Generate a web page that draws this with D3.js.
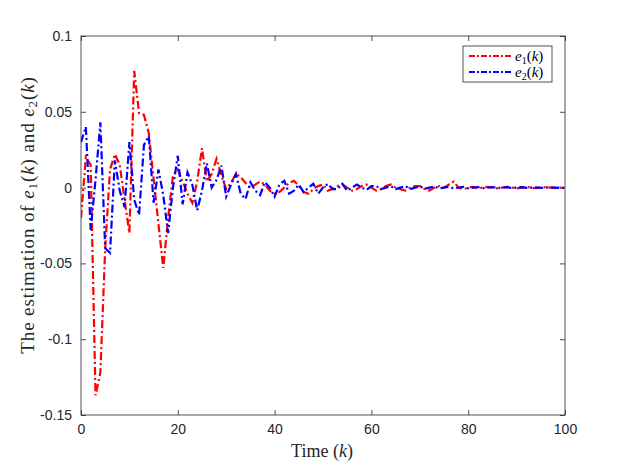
<!DOCTYPE html>
<html>
<head>
<meta charset="utf-8">
<script src="https://cdn.jsdelivr.net/npm/d3@7"></script>
<style>
  html, body { margin: 0; padding: 0; background: #fff; }
  svg { display: block; }
</style>
</head>
<body>
<svg id="chart" width="623" height="467"></svg>
<script>
const kValues = d3.range(0, 101);
const e1 = [
  -0.020, 0.020, 0.015, -0.137, -0.122, -0.040, 0.012, 0.022, 0.015, -0.008,
  -0.030, 0.077, 0.049, 0.048, 0.036, 0.006, -0.024, -0.053, -0.020, 0.008,
  0.012, 0.004, -0.004, -0.010, 0.004, 0.026, 0.004, 0.009, 0.019, 0.008,
  -0.001, 0.003, 0.009, 0.007, 0.003, 0.000, 0.002, 0.004, 0.002, -0.002,
  -0.004, -0.003, 0.000, 0.003, 0.0045, 0.001, -0.003, -0.004, -0.001, 0.001,
  0.002, -0.002, -0.001, 0.001, 0.002, 0.000, -0.002, -0.001, 0.001, 0.002,
  0.000, -0.002, -0.001, 0.001, 0.002, 0.000, -0.001, -0.002, 0.000, 0.001,
  0.001, -0.001, -0.002, 0.000, 0.001, 0.000, 0.002, 0.004, 0.000, -0.001,
  0.000, 0.0005, -0.0005, 0.000, 0.0005, 0.000, -0.0005, 0.000, 0.0005, 0.000,
  -0.0005, 0.000, 0.0004, 0.000, -0.0004, 0.000, 0.0003, 0.000, -0.0003, 0.000,
  0.000
];
const e2 = [
  0.030, 0.040, -0.028, 0.005, 0.043, -0.040, -0.043, 0.018, -0.002, -0.013,
  0.030, -0.008, -0.018, 0.028, 0.034, -0.010, 0.012, -0.005, -0.030, 0.000,
  0.021, -0.011, 0.010, 0.002, -0.015, -0.002, 0.016, 0.000, 0.005, 0.0145,
  -0.006, 0.002, 0.009, -0.004, -0.0075, 0.0035, -0.002, -0.005, 0.0035, 0.000,
  -0.006, 0.002, 0.0045, -0.004, -0.002, 0.002, -0.003, 0.000, 0.0025, -0.004,
  0.000, 0.0025, -0.001, -0.001, 0.0025, -0.002, 0.000, 0.002, 0.000, -0.0015,
  0.001, 0.001, -0.001, 0.000, 0.001, -0.001, 0.000, 0.001, -0.001, 0.000,
  0.0008, -0.0008, 0.000, 0.0008, -0.0005, 0.000, 0.0005, -0.0005, 0.000, 0.0005,
  -0.0005, 0.000, 0.0004, -0.0004, 0.000, 0.0004, -0.0003, 0.000, 0.0003, -0.0003,
  0.000, 0.0003, -0.0002, 0.000, 0.0002, -0.0002, 0.000, 0.0002, 0.000, -0.0002,
  0.000
];
const xTicks = [0, 20, 40, 60, 80, 100];
const yTicks = [0.1, 0.05, 0, -0.05, -0.1, -0.15];
const yTickLabels = ["0.1", "0.05", "0", "-0.05", "-0.1", "-0.15"];

const svg = d3.select("#chart");
const mLeft = 81, mRight = 565, mTop = 36, mBottom = 415;
const x = d3.scaleLinear().domain([0, 100]).range([mLeft, mRight]);
const y = d3.scaleLinear().domain([-0.15, 0.1]).range([mBottom, mTop]);
const axisColor = "#262626";
const tickFont = "Liberation Sans, Arial, Helvetica, sans-serif";
const serif = "Liberation Serif, 'Times New Roman', serif";

const xAxis = d3.axisBottom(x).tickValues(xTicks).tickSize(-5).tickPadding(9).tickFormat(d3.format("d"));
const gx = svg.append("g").attr("transform", `translate(0,${mBottom})`).call(xAxis);
const xAxisTop = d3.axisTop(x).tickValues(xTicks).tickSize(-5).tickFormat("");
const gxt = svg.append("g").attr("transform", `translate(0,${mTop})`).call(xAxisTop);
const yAxis = d3.axisLeft(y).tickValues(yTicks).tickSize(-5).tickPadding(9)
  .tickFormat((d, i) => yTickLabels[i]);
const gy = svg.append("g").attr("transform", `translate(${mLeft},0)`).call(yAxis);
const yAxisR = d3.axisRight(y).tickValues(yTicks).tickSize(-5).tickFormat("");
const gyr = svg.append("g").attr("transform", `translate(${mRight},0)`).call(yAxisR);

[gx, gxt, gy, gyr].forEach(g => {
  g.selectAll(".tick line").attr("stroke", axisColor).attr("stroke-width", 0.8);
  g.selectAll(".tick text").attr("fill", "#262626").attr("font-family", tickFont).attr("font-size", 14);
  g.select(".domain").remove();
});
svg.append("rect").attr("x", mLeft).attr("y", mTop).attr("width", mRight - mLeft).attr("height", mBottom - mTop)
  .attr("fill", "none").attr("stroke", axisColor).attr("stroke-width", 0.8);

const line = d3.line().x((d, i) => x(kValues[i])).y(d => y(d));
svg.append("clipPath").attr("id", "clip").append("rect")
  .attr("x", mLeft).attr("y", mTop).attr("width", mRight - mLeft).attr("height", mBottom - mTop);
const plot = svg.append("g").attr("clip-path", "url(#clip)");
const dash = "8,3,2,3";
plot.append("path").datum(e1).attr("d", line).attr("fill", "none")
  .attr("stroke", "#ff0000").attr("stroke-width", 2.2).attr("stroke-dasharray", dash);
plot.append("path").datum(e2).attr("d", line).attr("fill", "none")
  .attr("stroke", "#0000ff").attr("stroke-width", 2.2).attr("stroke-dasharray", dash);

// Legend
const lg = svg.append("g");
lg.append("rect").attr("x", 463).attr("y", 46).attr("width", 89).attr("height", 36)
  .attr("fill", "#fff").attr("stroke", axisColor).attr("stroke-width", 0.8);
const legendItems = [{color: "#ff0000", sub: "1"}, {color: "#0000ff", sub: "2"}];
legendItems.forEach((it, i) => {
  const yy = 56 + i * 16;
  lg.append("line").attr("x1", 469).attr("x2", 512).attr("y1", yy).attr("y2", yy)
    .attr("stroke", it.color).attr("stroke-width", 2.2).attr("stroke-dasharray", "6,2,2,2");
  const t = lg.append("text").attr("x", 515).attr("y", yy + 4.5)
    .attr("font-family", serif).attr("font-size", 15).attr("fill", "#000");
  t.append("tspan").attr("font-style", "italic").text("e");
  t.append("tspan").attr("font-size", 10).attr("dy", 3).text(it.sub);
  t.append("tspan").attr("dy", -3).text("(");
  t.append("tspan").attr("font-style", "italic").text("k");
  t.append("tspan").text(")");
});

// Axis labels
const xl = svg.append("text").attr("x", 322).attr("y", 457).attr("text-anchor", "middle")
  .attr("font-family", serif).attr("font-size", 18).attr("fill", "#262626");
xl.append("tspan").text("Time (");
xl.append("tspan").attr("font-style", "italic").text("k");
xl.append("tspan").text(")");

const yl = svg.append("text").attr("transform", `translate(34,215) rotate(-90)`)
  .attr("text-anchor", "middle").attr("font-family", serif).attr("font-size", 19)
  .attr("letter-spacing", 0.9).attr("fill", "#262626");
yl.append("tspan").text("The estimation of ");
yl.append("tspan").attr("font-style", "italic").text("e");
yl.append("tspan").attr("font-size", 13).attr("dy", 3).text("1");
yl.append("tspan").attr("dy", -3).text("(");
yl.append("tspan").attr("font-style", "italic").text("k");
yl.append("tspan").text(") and ");
yl.append("tspan").attr("font-style", "italic").text("e");
yl.append("tspan").attr("font-size", 13).attr("dy", 3).text("2");
yl.append("tspan").attr("dy", -3).text("(");
yl.append("tspan").attr("font-style", "italic").text("k");
yl.append("tspan").text(")");
</script>
</body>
</html>
